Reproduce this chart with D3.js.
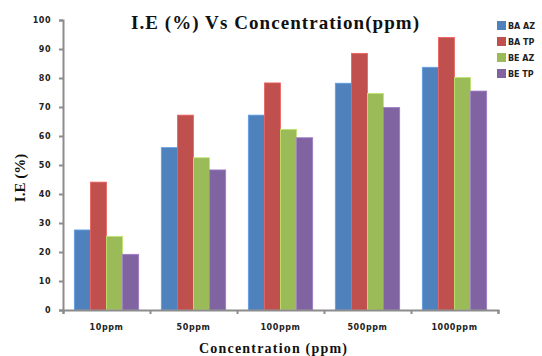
<!DOCTYPE html>
<html>
<head>
<meta charset="utf-8">
<script src="https://cdn.jsdelivr.net/npm/d3@7"></script>
<style>
  body { margin: 0; background: #fff; }
  .tick text { font-family: "DejaVu Sans", sans-serif; font-weight: bold; font-size: 8px; fill: #222; }
</style>
</head>
<body>
<div id="chart"></div>
<script>
// data
var categories = ["10ppm", "50ppm", "100ppm", "500ppm", "1000ppm"];
var seriesNames = ["BA AZ", "BA TP", "BE AZ", "BE TP"];
var baaz = [27.6, 56.0, 67.2, 78.2, 83.7];
var batp = [44.1, 67.2, 78.3, 88.5, 94.0];
var beaz = [25.4, 52.5, 62.3, 74.7, 80.2];
var betp = [19.2, 48.3, 59.4, 69.8, 75.5];
var yTicks = [0, 10, 20, 30, 40, 50, 60, 70, 80, 90, 100];
var colors = ["#4F81BD", "#C0504D", "#9BBB59", "#8064A2"];

var seriesValues = [baaz, batp, beaz, betp];

var width = 542, height = 356;
var margin = { top: 20, right: 44, bottom: 46, left: 63 };

var svg = d3.select("#chart")
    .append("svg")
    .attr("width", width)
    .attr("height", height);

// scales
var x0 = d3.scaleBand()
    .domain(categories)
    .range([margin.left, width - margin.right])
    .paddingInner(0.26)
    .paddingOuter(0.13);

var x1 = d3.scaleBand()
    .domain(seriesNames)
    .range([0, x0.bandwidth()]);

var y = d3.scaleLinear()
    .domain([0, 100])
    .range([height - margin.bottom, margin.top]);

// bars
var rows = categories.map(function (c, i) {
    return { cat: c, vals: seriesNames.map(function (s, j) { return { key: s, value: seriesValues[j][i], idx: j }; }) };
});

svg.append("g")
    .selectAll("g")
    .data(rows)
    .enter()
    .append("g")
    .attr("transform", function (d) { return "translate(" + x0(d.cat) + ",0)"; })
    .selectAll("rect")
    .data(function (d) { return d.vals; })
    .enter()
    .append("rect")
    .attr("x", function (d) { return x1(d.key); })
    .attr("y", function (d) { return y(d.value); })
    .attr("width", x1.bandwidth())
    .attr("height", function (d) { return y(0) - y(d.value); })
    .attr("fill", function (d) { return colors[d.idx]; })
    .attr("stroke", function (d) { return d3.color(colors[d.idx]).brighter(0.6); })
    .attr("stroke-width", 0.8);

// y axis
var yAxis = svg.append("g")
    .attr("transform", "translate(" + margin.left + ",0)")
    .call(d3.axisLeft(y).tickValues(yTicks).tickSize(4).tickPadding(8).tickSizeOuter(4));
yAxis.select(".domain").attr("stroke", "#8c8c8c").attr("stroke-width", 2);
yAxis.selectAll(".tick line").attr("stroke", "#8c8c8c").attr("stroke-width", 2);
yAxis.selectAll(".tick text").attr("letter-spacing", 0.5);

// x axis: tick marks at the band edges
var xEdge = d3.scaleLinear().domain([0, categories.length]).range([margin.left, width - margin.right]);
var xAxis = svg.append("g")
    .attr("transform", "translate(0," + y(0) + ")")
    .call(d3.axisBottom(xEdge).ticks(categories.length).tickFormat("").tickSize(4).tickSizeOuter(4));
xAxis.select(".domain").attr("stroke", "#8c8c8c").attr("stroke-width", 2);
xAxis.selectAll(".tick line").attr("stroke", "#8c8c8c").attr("stroke-width", 2);

// category labels
var xLab = svg.append("g")
    .attr("transform", "translate(0," + y(0) + ")")
    .call(d3.axisBottom(x0).tickSize(0).tickPadding(14));
xLab.select(".domain").remove();
xLab.selectAll(".tick text").attr("letter-spacing", 0.6);

// title
svg.append("text")
    .attr("x", 131)
    .attr("y", 29)
    .attr("textLength", 288)
    .attr("lengthAdjust", "spacing")
    .style("font-family", "Liberation Serif, serif")
    .style("font-weight", "bold")
    .style("font-size", "19px")
    .style("fill", "#111")
    .text("I.E (%) Vs Concentration(ppm)");

// axis titles
svg.append("text")
    .attr("transform", "translate(25,178) rotate(-90)")
    .attr("text-anchor", "middle")
    .style("font-family", "Liberation Serif, serif")
    .style("font-weight", "bold")
    .style("font-size", "15px")
    .style("fill", "#111")
    .text("I.E (%)");

svg.append("text")
    .attr("x", 199)
    .attr("y", 353)
    .attr("textLength", 148)
    .attr("lengthAdjust", "spacing")
    .style("font-family", "Liberation Serif, serif")
    .style("font-weight", "bold")
    .style("font-size", "14px")
    .style("fill", "#111")
    .text("Concentration  (ppm)");

// legend
var legend = svg.append("g")
    .selectAll("g")
    .data(seriesNames)
    .enter()
    .append("g")
    .attr("transform", function (d, i) { return "translate(497," + (21 + i * 16) + ")"; });

legend.append("rect")
    .attr("width", 9)
    .attr("height", 9)
    .attr("fill", function (d, i) { return colors[i]; });

legend.append("text")
    .attr("x", 11)
    .attr("y", 8)
    .style("font-family", "DejaVu Sans, sans-serif")
    .style("font-weight", "bold")
    .style("font-size", "8px")
    .style("fill", "#222")
    .text(function (d) { return d; });
</script>
</body>
</html>
